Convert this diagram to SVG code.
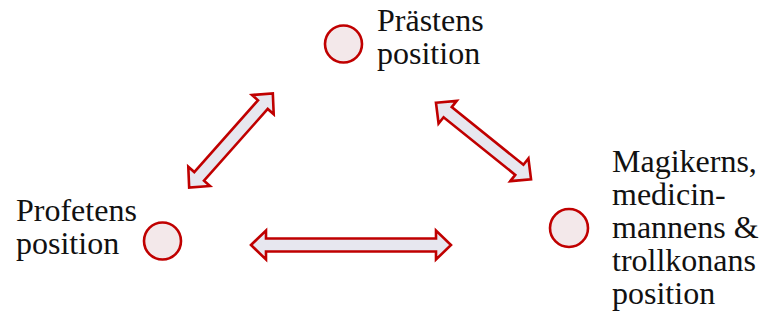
<svg xmlns="http://www.w3.org/2000/svg" width="762" height="320" viewBox="0 0 762 320">
<style>
.node{fill:#f3e8ea;stroke:#c00000;stroke-width:2.6}
.lbl{font-family:"Liberation Serif","Times New Roman",serif;font-size:32px;fill:#111}
.arr{fill:#e7e7ef;stroke:#c00000;stroke-width:2.6;stroke-linejoin:miter}
</style>
<rect width="762" height="320" fill="#fff"/>
<g id="connectors">
<path class="arr" transform="translate(351,245)" d="M-100,0 L-85,-14.5 L-85,-6.5 L85,-6.5 L85,-14.5 L100,0 L85,14.5 L85,6.5 L-85,6.5 L-85,14.5 Z"/>
<path class="arr" transform="translate(231,140.5) rotate(-48.4)" d="M-63,0 L-48,-14.5 L-48,-6.5 L48,-6.5 L48,-14.5 L63,0 L48,14.5 L48,6.5 L-48,6.5 L-48,14.5 Z"/>
<path class="arr" transform="translate(483.5,141) rotate(38.8)" d="M-61,0 L-46,-14.5 L-46,-6.5 L46,-6.5 L46,-14.5 L61,0 L46,14.5 L46,6.5 L-46,6.5 L-46,14.5 Z"/>
</g>
<g id="prasten">
<circle class="node" cx="343.5" cy="44" r="18.5"/>
<text class="lbl" x="377" y="31">Prästens</text>
<text class="lbl" x="377" y="64">position</text>
</g>
<g id="profeten">
<circle class="node" cx="162.5" cy="241" r="18.5"/>
<text class="lbl" x="16" y="221">Profetens</text>
<text class="lbl" x="16" y="254">position</text>
</g>
<g id="magikern">
<circle class="node" cx="569" cy="228" r="19"/>
<text class="lbl" x="612" y="172">Magikerns,</text>
<text class="lbl" x="612" y="205">medicin-</text>
<text class="lbl" x="612" y="238">mannens &amp;</text>
<text class="lbl" x="612" y="271">trollkonans</text>
<text class="lbl" x="612" y="304">position</text>
</g>
</svg>
